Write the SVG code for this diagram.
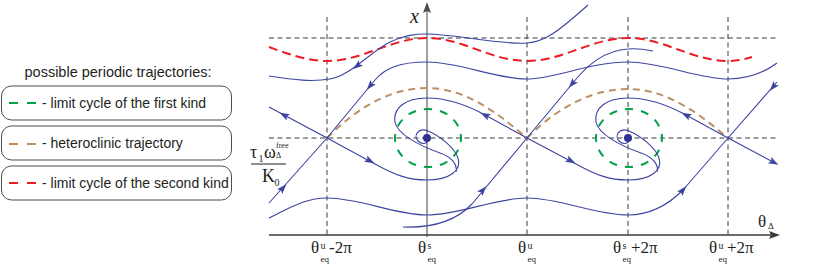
<svg xmlns="http://www.w3.org/2000/svg" xmlns:xlink="http://www.w3.org/1999/xlink" width="830" height="268" viewBox="0 0 830 268">
<style>
.lg{font-family:"Liberation Sans",Arial,sans-serif;font-size:14px;fill:#231f20}
.box{fill:#fff;stroke:#4d4d4d;stroke-width:1}
.grid{fill:none;stroke:#3a3a3a;stroke-width:1;stroke-dasharray:5 3.5}
.tr{fill:none;stroke:#3d44a0;stroke-width:1.1}
.red{fill:none;stroke:#ed1c24;stroke-width:2;stroke-dasharray:9 5}
.brn{fill:none;stroke:#bd9064;stroke-width:2;stroke-dasharray:7 5}
.grn{fill:none;stroke:#00a14b;stroke-width:2}
.m{font-family:"Liberation Serif","Times New Roman",serif;font-size:17px;fill:#231f20}
.t{font-size:10px}
.q{font-size:9px}
</style>
<defs>
<path id="ah" d="M5,0 L-5,-3.5 L-3,0 L-5,3.5 Z" fill="#3d44a0"/>
</defs>

<g id="legend">
<text class="lg" x="118" y="77" text-anchor="middle" style="font-size:14.5px">possible periodic trajectories:</text>
<g id="legend-first-kind">
<rect class="box" x="1.5" y="86" width="230" height="34" rx="10"/>
<path d="M9,103 H18 M27,103 H36" stroke="#00a14b" stroke-width="2"/>
<text class="lg" x="42" y="107.5">- limit cycle of the first kind</text>
</g>
<g id="legend-heteroclinic">
<rect class="box" x="1.5" y="126" width="230" height="34" rx="10"/>
<path d="M9,144 H18 M27,144 H36" stroke="#bd9064" stroke-width="2"/>
<text class="lg" x="42" y="148">- heteroclinic trajectory</text>
</g>
<g id="legend-second-kind">
<rect class="box" x="1.5" y="166" width="230" height="34" rx="10"/>
<path d="M9,183 H18 M27,183 H36" stroke="#ed1c24" stroke-width="2"/>
<text class="lg" x="42" y="187.5">- limit cycle of the second kind</text>
</g>
</g>

<g id="grid">
<path class="grid" d="M269,38 H778 M269,138 H778 M327,17 V235 M527,17 V235 M628,17 V235 M728,17 V235"/>
</g>

<g id="axes">
<path d="M427,237 V9" stroke="#808080" stroke-width="1.5" fill="none"/>
<path d="M427,2 L423,13 L427,11 L431,13 Z" fill="#4d4d4d"/>
<path d="M269,235 H772" stroke="#3a3a3a" stroke-width="1.5" fill="none"/>
<path d="M780,235 L769,231 L771,235 L769,239 Z" fill="#3a3a3a"/>
<text x="410" y="23" style="font-family:'Liberation Serif',serif;font-style:italic;font-size:20px;fill:#231f20">x</text>
<text class="m" x="758" y="227">θ<tspan x="768" y="229" style="font-size:9px">Δ</tspan></text>
</g>

<g id="tick-labels">
<text class="m" x="311" y="253">θ<tspan class="t" x="320.5" y="249">u</tspan><tspan class="q" x="320.5" y="262">eq</tspan><tspan x="329" y="253">-2π</tspan></text>
<text class="m" x="418" y="253">θ<tspan class="t" x="427.5" y="249">s</tspan><tspan class="q" x="427.5" y="262">eq</tspan></text>
<text class="m" x="518" y="253">θ<tspan class="t" x="527.5" y="249">u</tspan><tspan class="q" x="527.5" y="262">eq</tspan></text>
<text class="m" x="613" y="253">θ<tspan class="t" x="622.5" y="249">s</tspan><tspan class="q" x="622.5" y="262">eq</tspan><tspan x="631" y="253">+2π</tspan></text>
<text class="m" x="709" y="253">θ<tspan class="t" x="718.5" y="249">u</tspan><tspan class="q" x="718.5" y="262">eq</tspan><tspan x="727" y="253">+2π</tspan></text>
</g>

<g id="y-label">
<text class="m" x="250" y="158" style="font-size:18px">τ<tspan class="t" x="258.5" y="162">1</tspan><tspan x="264" y="158">ω</tspan><tspan x="276" y="148" style="font-size:8px">free</tspan><tspan x="276" y="158" style="font-size:8px">Δ</tspan></text>
<path d="M251,164 H286" stroke="#231f20" stroke-width="1.2"/>
<text class="m" x="262" y="182" style="font-size:18px">K<tspan class="t" x="274.5" y="186">0</tspan></text>
</g>

<g id="limit-cycles-first-kind">
<ellipse class="grn" cx="428" cy="138" rx="33" ry="29" pathLength="120" stroke-dasharray="5 5" stroke-dashoffset="2.5"/>
<ellipse class="grn" cx="629" cy="138" rx="33" ry="29" pathLength="120" stroke-dasharray="5 5" stroke-dashoffset="2.5"/>
</g>

<g id="heteroclinic">
<path class="brn" d="M327,138 C350,115 384,88 427,88 C470,88 505,120 527,138"/>
<path class="brn" d="M527,138 C550,115 585,89 628,89 C671,89 706,120 728,138"/>
</g>

<g id="limit-cycle-second-kind">
<path class="red" d="M269,47 C288,54 308,61 327,61 C363,61 391,38 427,38 C463,38 491,61 527,61 C563,61 592,38 628,38 C664,38 692,61 728,61 C738,61 745,59 752,57"/>
</g>

<g id="trajectories">
<path class="tr" d="M269,76 C295,80 312,82 330,79 C350,76 370,52 390,42 C405,35 415,34 427,34 C455,34 500,45 527,43 C545,42 560,30 588,5"/>
<path class="tr" d="M327,138 L375,80 C385,68 400,62 427,62 C460,62 495,79 527,79 C555,79 590,62 628,62 C660,62 700,79 728,79 C750,79 765,72 777,63"/>
<path class="tr" d="M527,138 L577,78 C587,66 605,50 628,49 C640,48 648,50 653,51"/>
<path class="tr" d="M269,218 C290,208 305,198 327,198 C360,198 395,215 427,215 C460,215 495,198 527,198 C560,198 595,215 628,215 C650,215 668,205 683,190 L728,138 L777,82"/>
<path class="tr" d="M403,227 C430,228 455,222 472,204 L527,138"/>
<path class="tr" d="M269,203 L327,138 L269,107"/>
<path class="tr" d="M327,138 L375,164 C395,175 408,180 427,180 C450,180 462,170 458,158 C455,148 440,136 428,131 C418,127 413,136 418,141 C422,145 430,144 427,138"/>
<path class="tr" d="M527,138 L485,115 C465,104 447,98 427,98 C405,98 393,108 395,122 C397,134 420,146 440,153 C452,157 458,165 456,172"/>
<path class="tr" d="M527,138 L576,164 C596,175 609,180 628,180 C651,180 663,170 659,158 C656,148 641,136 629,131 C619,127 614,136 619,141 C623,145 631,144 628,138"/>
<path class="tr" d="M728,138 L686,115 C666,104 648,98 628,98 C606,98 594,108 596,122 C598,134 621,146 641,153 C653,157 659,165 657,172"/>
<path class="tr" d="M728,138 L774,162.5"/>
</g>

<g id="arrowheads">
<use xlink:href="#ah" transform="translate(357,66) rotate(142)"/>
<use xlink:href="#ah" transform="translate(370,86) rotate(130)"/>
<use xlink:href="#ah" transform="translate(284,115) rotate(-152)"/>
<use xlink:href="#ah" transform="translate(283,188) rotate(-48)"/>
<use xlink:href="#ah" transform="translate(370,161) rotate(28)"/>
<use xlink:href="#ah" transform="translate(485,115) rotate(-152)"/>
<use xlink:href="#ah" transform="translate(483,190) rotate(-50)"/>
<use xlink:href="#ah" transform="translate(572,84) rotate(130)"/>
<use xlink:href="#ah" transform="translate(571,161) rotate(28)"/>
<use xlink:href="#ah" transform="translate(686,115) rotate(-152)"/>
<use xlink:href="#ah" transform="translate(683,190) rotate(-49)"/>
<use xlink:href="#ah" transform="translate(773,87) rotate(131)"/>
<use xlink:href="#ah" transform="translate(774,162.5) rotate(28)"/>
</g>

<g id="foci">
<circle cx="427" cy="138" r="4" fill="#2e3192"/>
<circle cx="628" cy="138" r="4" fill="#2e3192"/>
</g>
</svg>
